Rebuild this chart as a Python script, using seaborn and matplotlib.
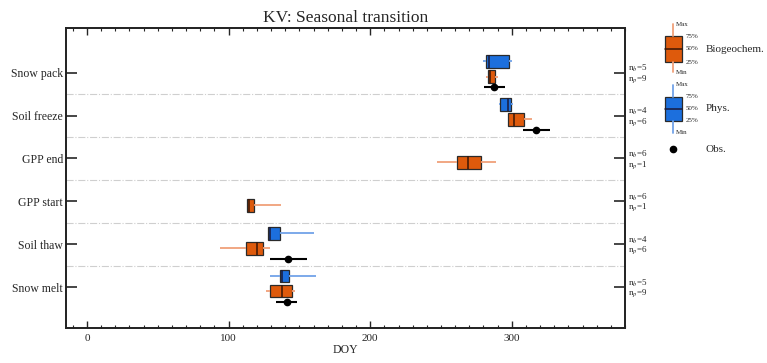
import numpy as np
import pandas as pd
import matplotlib
matplotlib.use("Agg")
import matplotlib.pyplot as plt
from matplotlib.patches import Rectangle
from matplotlib.ticker import MultipleLocator
import seaborn as sns

# Seasonal transition events (top to bottom)
events = ["Snow pack", "Soil freeze", "GPP end", "GPP start", "Soil thaw", "Snow melt"]

# Physical models: min, 25%, median, 75%, max (DOY)
phys_events = ["Snow pack", "Soil freeze", "Soil thaw", "Snow melt"]
phys_min = [280, 291, 128, 129]
phys_q1 = [281.5, 292, 128, 136]
phys_med = [284, 297, 129, 138]
phys_q3 = [298, 299.5, 136, 143]
phys_max = [300, 300.5, 160, 162]

# Biogeochemical models: min, 25%, median, 75%, max (DOY)
bgc_events = ["Snow pack", "Soil freeze", "GPP end", "GPP start", "Soil thaw", "Snow melt"]
bgc_min = [282, 297, 247, 113, 94, 126.5]
bgc_q1 = [283, 297, 261, 113, 112, 129]
bgc_med = [284.5, 301.5, 269, 114.5, 120, 138]
bgc_q3 = [288, 308.5, 278, 118, 124, 144.5]
bgc_max = [290.5, 314.5, 289, 137, 129.5, 147]

# Observations: value and range (DOY)
obs_events = ["Snow pack", "Soil freeze", "Soil thaw", "Snow melt"]
obs_val = [287.4, 317.3, 142, 141.1]
obs_lo = [280.3, 308.1, 129, 133.6]
obs_hi = [294.9, 326.7, 155.5, 148.4]

# Number of models per event
n_bgc = [5, 4, 6, 6, 4, 5]
n_phys = [9, 6, 1, 1, 6, 9]

# Vertical offsets of each group within an event row
OFF_PHYS, OFF_BGC, OFF_OBS = -0.26, 0.09, 0.34

C_BGC, C_BGC_W = "#DE5A0C", "#F0A07A"
C_PHYS, C_PHYS_W = "#1C6FDD", "#72A3E8"


def long_frame(names, mins, q1s, meds, q3s, maxs, offset):
    rows = []
    for name, a, b, c, d, e in zip(names, mins, q1s, meds, q3s, maxs):
        pos = events.index(name) + offset
        for v in (a, b, c, d, e):
            rows.append({"pos": pos, "doy": v})
    return pd.DataFrame(rows)


df_phys = long_frame(phys_events, phys_min, phys_q1, phys_med, phys_q3, phys_max, OFF_PHYS)
df_bgc = long_frame(bgc_events, bgc_min, bgc_q1, bgc_med, bgc_q3, bgc_max, OFF_BGC)

sns.set_theme(style="ticks")
plt.rcParams["font.family"] = ["Liberation Serif", "DejaVu Serif"]
plt.rcParams["mathtext.fontset"] = "stix"

fig = plt.figure(figsize=(7.67, 3.63), dpi=100)
ax = fig.add_axes([0.0857, 0.0956, 0.7293, 0.826])

box_common = dict(
    orient="h", native_scale=True, whis=(0, 100), showcaps=False,
    width=0.30, saturation=1, linecolor="#2a2a2a", linewidth=0.9,
    showfliers=False, ax=ax,
)
sns.boxplot(data=df_phys, x="doy", y="pos", color=C_PHYS,
            whiskerprops=dict(color=C_PHYS_W, linewidth=1.3),
            medianprops=dict(color="#1a1a3a", linewidth=1.1), **box_common)
sns.boxplot(data=df_bgc, x="doy", y="pos", color=C_BGC,
            whiskerprops=dict(color=C_BGC_W, linewidth=1.3),
            medianprops=dict(color="#3a1505", linewidth=1.1), **box_common)

obs_pos = np.array([events.index(e) for e in obs_events]) + OFF_OBS
obs_val_a = np.array(obs_val)
xerr = np.vstack([obs_val_a - np.array(obs_lo), np.array(obs_hi) - obs_val_a])
ax.errorbar(obs_val_a, obs_pos, xerr=xerr, fmt="o", color="black",
            markersize=4.5, elinewidth=1.5, capsize=0, zorder=5)

# Separators between event rows
for k in range(len(events) - 1):
    ax.axhline(k + 0.5, color="#cfcfcf", linestyle="-.", linewidth=0.8, zorder=0)

ax.set_xlim(-15, 380)
ax.set_ylim(len(events) - 0.04, -1.03)
ax.xaxis.set_major_locator(MultipleLocator(100))
ax.xaxis.set_minor_locator(MultipleLocator(10))
ax.tick_params(axis="x", which="major", direction="in", length=5, width=1,
               top=True, bottom=True, labelsize=8, pad=4)
ax.tick_params(axis="x", which="minor", direction="in", length=2.5, width=0.8,
               top=True, bottom=True)
ax.set_yticks(range(len(events)))
ax.set_yticklabels(events)
ax.tick_params(axis="y", direction="in", length=8, width=1.2, labelsize=8.5, pad=2)
ax.set_xlabel("DOY", fontsize=8.5, labelpad=1)
ax.set_ylabel("")
for s in ax.spines.values():
    s.set_linewidth(1.2)
    s.set_color("black")
ax.set_title("KV: Seasonal transition", fontsize=12.5, pad=5)

# Model counts on the right side
ax2 = ax.twinx()
ax2.set_ylim(ax.get_ylim())
ax2.set_yticks(range(len(events)))
ax2.set_yticklabels([f"n$_b$={b}\nn$_p$={p}" for b, p in zip(n_bgc, n_phys)],
                    fontsize=6.5, linespacing=0.8)
ax2.tick_params(axis="y", direction="in", length=8, width=1.2, pad=2)
for s in ax2.spines.values():
    s.set_linewidth(1.2)

# Legend drawn in pixel space
lg = fig.add_axes([0, 0, 1, 1])
lg.set_xlim(0, 767)
lg.set_ylim(363, 0)
lg.axis("off")
cx = 673.3
for (top, q3, med, q1, bot, fc, wc, mc, label) in [
    (24, 36, 49, 62, 72, C_BGC, C_BGC_W, "#3a1505", "Biogeochem."),
    (85, 97, 108.5, 121, 133, C_PHYS, C_PHYS_W, "#1a1a3a", "Phys."),
]:
    lg.plot([cx, cx], [top, q3], color=wc, lw=1.3)
    lg.plot([cx, cx], [q1, bot], color=wc, lw=1.3)
    lg.add_patch(Rectangle((cx - 8.3, q3), 16.6, q1 - q3, facecolor=fc,
                           edgecolor="#2a2a2a", lw=0.9))
    lg.plot([cx - 8.3, cx + 8.3], [med, med], color=mc, lw=1.1)
    lg.text(cx + 3, top, "Max", fontsize=5, va="center", ha="left")
    lg.text(cx + 3, bot, "Min", fontsize=5, va="center", ha="left")
    for yy, t in ((q3, "75%"), (med, "50%"), (q1, "25%")):
        lg.text(cx + 12, yy, t, fontsize=5, va="center", ha="left")
    lg.text(706, med, label, fontsize=8, va="center", ha="left")
lg.plot([cx], [148.5], "o", color="black", markersize=4.5)
lg.text(706, 149.5, "Obs.", fontsize=8, va="center", ha="left")

fig.savefig("out.png", dpi=100)
